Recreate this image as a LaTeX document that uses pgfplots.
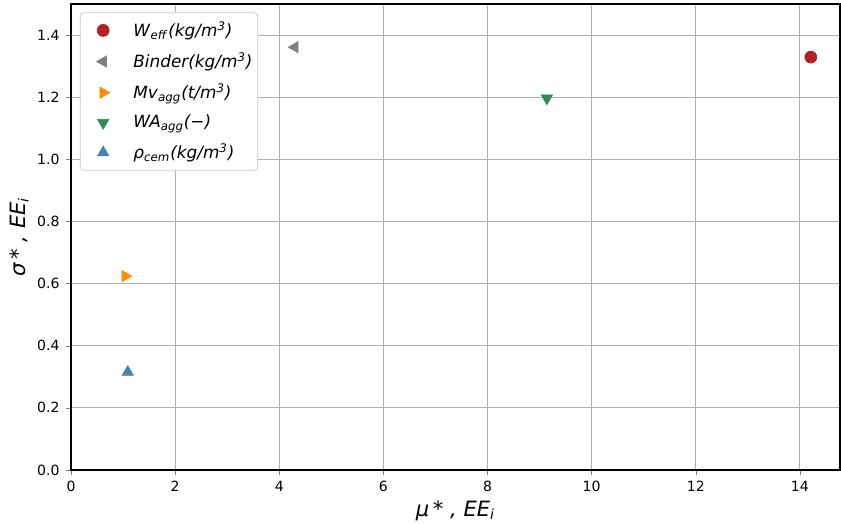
\documentclass[border=0pt]{standalone}
\usepackage{fontspec}
\setmainfont{DejaVu Sans}
\usepackage{pgfplots}
\pgfplotsset{compat=1.18}
\definecolor{cW}{HTML}{B22222}
\definecolor{cB}{HTML}{808080}
\definecolor{cM}{HTML}{FF8C00}
\definecolor{cWA}{HTML}{2E8B57}
\definecolor{cR}{HTML}{4682B4}
\definecolor{gridc}{HTML}{B0B0B0}
\begin{document}
\begin{tikzpicture}[x=1cm,y=1cm]
\begin{axis}[
  at={(0,0)}, anchor=south west,
  scale only axis, width=15.38cm, height=9.32cm,
  xmin=0, xmax=14.77, ymin=0, ymax=1.5,
  xtick={0,2,...,14}, ytick={0,0.2,...,1.4},
  yticklabel style={/pgf/number format/.cd, fixed, fixed zerofill, precision=1},
  /pgf/number format/assume math mode=true,
  tick label style={font=\fontsize{8}{9}\selectfont},
  grid=major, major grid style={gridc, line width=0.5pt},
  tick align=outside, tick pos=left, major tick length=3pt,
  axis line style={black, line width=0.6pt},
  xlabel={\textit{μ}\,\textit{* , EE}\textsubscript{\textit{i}}},
  ylabel={\textit{σ}\,\textit{* , EE}\textsubscript{\textit{i}}},
  label style={font=\fontsize{12}{13}\selectfont},
  xlabel style={yshift=2pt},
  ylabel style={yshift=-2pt},
  legend style={at={(0.0117,0.982)}, anchor=north west, draw=gridc!70, rounded corners=2pt,
    fill=white, font=\fontsize{9.6}{11}\selectfont,
    row sep=3.6pt, column sep=11.5pt, inner xsep=1pt, inner ysep=3pt},
  legend image code/.code={\path[draw=none,fill=none] (-12pt,0pt) -- (0pt,0pt); \draw[#1] plot coordinates {(0cm,0cm)};},
  legend cell align=left,
  clip=false,
]
\addplot[only marks, mark=*, mark size=3.4pt, color=cW] coordinates {(14.21,1.329)};
\addlegendentry{\textit{W}\textsubscript{\textit{eff}}\textit{(kg/m}\textsuperscript{\textit{3}}\textit{)}}
\addplot[only marks, mark=triangle*, mark size=3.7pt, color=cB, mark options={rotate=90}] coordinates {(4.30,1.361)};
\addlegendentry{\textit{Binder(kg/m}\textsuperscript{\textit{3}}\textit{)}}
\addplot[only marks, mark=triangle*, mark size=3.7pt, color=cM, mark options={rotate=-90}] coordinates {(1.04,0.624)};
\addlegendentry{\textit{Mv}\textsubscript{\textit{agg}}\textit{(t/m}\textsuperscript{\textit{3}}\textit{)}}
\addplot[only marks, mark=triangle*, mark size=3.7pt, color=cWA, mark options={rotate=180}] coordinates {(9.14,1.197)};
\addlegendentry{\textit{WA}\textsubscript{\textit{agg}}\textit{(−)}}
\addplot[only marks, mark=triangle*, mark size=3.7pt, color=cR] coordinates {(1.09,0.315)};
\addlegendentry{\textit{ρ}\textsubscript{\textit{cem}}\textit{(kg/m}\textsuperscript{\textit{3}}\textit{)}}
\end{axis}
\pgfresetboundingbox
\useasboundingbox (-1.42cm,-1.08cm) rectangle (15.40cm,9.40cm);
\end{tikzpicture}
\end{document}
